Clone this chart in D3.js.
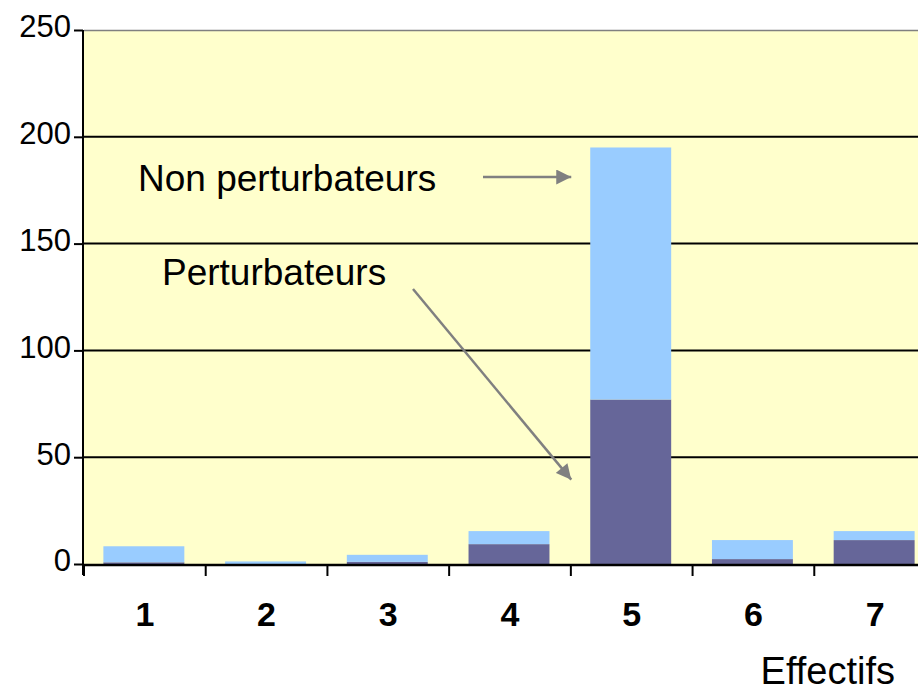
<!DOCTYPE html>
<html>
<head>
<meta charset="utf-8">
<script src="https://cdn.jsdelivr.net/npm/d3@7"></script>
<style>
  html, body { margin: 0; padding: 0; background: #ffffff; overflow: hidden; }
  svg { display: block; font-family: "Liberation Sans", Arial, sans-serif; }
</style>
</head>
<body>
<svg id="chart" width="918" height="694"></svg>
<script>
// Effectifs par catégorie, empilés : perturbateurs en bas, non perturbateurs au-dessus
const categories = ["1", "2", "3", "4", "5", "6", "7"];
const perturbateurs = [0.8, 0, 1, 9.3, 77, 2.3, 11.2];
const nonPerturbateurs = [7.5, 1.2, 3.3, 6.1, 118, 8.9, 4.2];
const yTicks = [0, 50, 100, 150, 200, 250];
const seriesNames = ["Perturbateurs", "Non perturbateurs"];
const seriesColors = ["#666699", "#99ccff"];

const svg = d3.select("#chart");
const W = 918, H = 694;
const margin = { left: 84, top: 30 };
const plotW = 852;          // seven bands; the last one runs past the right edge
const plotH = 534;

const rows = categories.map((c, i) => ({
  cat: c,
  "Perturbateurs": perturbateurs[i],
  "Non perturbateurs": nonPerturbateurs[i]
}));
const stack = d3.stack().keys(seriesNames)(rows);

const x = d3.scaleBand().domain(categories).range([0, plotW])
  .paddingInner(0.335).paddingOuter(0.1675);
const y = d3.scaleLinear().domain([0, 250]).range([plotH, 0]);

const g = svg.append("g").attr("transform", `translate(${margin.left},${margin.top})`);

// plot background
g.append("rect").attr("x", 0).attr("y", 0).attr("width", W).attr("height", plotH)
  .attr("fill", "#ffffcc");

// horizontal gridlines
g.selectAll("line.grid").data(yTicks.filter(d => d > 0 && d < 250)).join("line")
  .attr("class", "grid")
  .attr("x1", 0).attr("x2", W)
  .attr("y1", d => y(d)).attr("y2", d => y(d))
  .attr("stroke", "#000").attr("stroke-width", 2);

// top border of plot area
g.append("line").attr("x1", 0).attr("x2", W).attr("y1", 0.5).attr("y2", 0.5)
  .attr("stroke", "#808080").attr("stroke-width", 1.5);

// stacked bars
g.selectAll("g.layer").data(stack).join("g")
  .attr("class", "layer")
  .attr("fill", (d, i) => seriesColors[i])
  .selectAll("rect").data(d => d).join("rect")
  .attr("x", d => x(d.data.cat) - 1)
  .attr("width", x.bandwidth())
  .attr("y", d => y(d[1]))
  .attr("height", d => y(d[0]) - y(d[1]));

// y axis
const yAxis = d3.axisLeft(y).tickValues(yTicks).tickSize(9).tickPadding(3);
const ya = g.append("g").attr("transform", "translate(-1,0)").call(yAxis);
ya.select(".domain").remove();
ya.selectAll(".tick line").attr("stroke", "#000").attr("stroke-width", 2);
ya.selectAll(".tick text").attr("font-size", 31).attr("fill", "#000")
  .attr("dy", "0.22em")
  .attr("font-family", "'Liberation Sans', Arial, sans-serif");
g.append("line").attr("x1", -1).attr("x2", -1).attr("y1", 0).attr("y2", plotH + 11)
  .attr("stroke", "#000").attr("stroke-width", 2);

// x axis with ticks between categories
g.append("line").attr("x1", -1).attr("x2", W).attr("y1", plotH + 1).attr("y2", plotH + 1)
  .attr("stroke", "#000").attr("stroke-width", 2.5);
const gap = (x.step() - x.bandwidth()) / 2;
g.selectAll("line.xtick").data(categories).join("line")
  .attr("class", "xtick")
  .attr("x1", d => x(d) - gap)
  .attr("x2", d => x(d) - gap)
  .attr("y1", plotH).attr("y2", plotH + 12)
  .attr("stroke", "#000").attr("stroke-width", 2);
g.selectAll("text.xlab").data(categories).join("text")
  .attr("class", "xlab")
  .attr("x", d => x(d) + x.bandwidth() / 2)
  .attr("y", 626 - margin.top)
  .attr("text-anchor", "middle")
  .attr("font-size", 34).attr("font-weight", "bold")
  .text(d => d);

// axis title
svg.append("text").attr("x", 895).attr("y", 684).attr("text-anchor", "end")
  .attr("font-size", 38).text("Effectifs");

// arrow marker
const defs = svg.append("defs");
defs.append("marker").attr("id", "arrow")
  .attr("viewBox", "0 0 10 10").attr("refX", 10).attr("refY", 5)
  .attr("markerWidth", 16).attr("markerHeight", 15)
  .attr("markerUnits", "userSpaceOnUse").attr("orient", "auto")
  .append("path").attr("d", "M0,0 L10,5 L0,10 Z").attr("fill", "#808080");

// annotations pointing to the two segments of bar 5
const b5 = margin.left + x("5");
svg.append("text").attr("x", 138).attr("y", 191).attr("font-size", 37)
  .text("Non perturbateurs");
svg.append("line")
  .attr("x1", 483).attr("y1", 177)
  .attr("x2", b5 - 20).attr("y2", 177)
  .attr("stroke", "#808080").attr("stroke-width", 2.5)
  .attr("marker-end", "url(#arrow)");

svg.append("text").attr("x", 162).attr("y", 285).attr("font-size", 37)
  .text("Perturbateurs");
svg.append("line")
  .attr("x1", 413).attr("y1", 289)
  .attr("x2", b5 - 20).attr("y2", margin.top + y(39.5))
  .attr("stroke", "#808080").attr("stroke-width", 2.5)
  .attr("marker-end", "url(#arrow)");
</script>
</body>
</html>
